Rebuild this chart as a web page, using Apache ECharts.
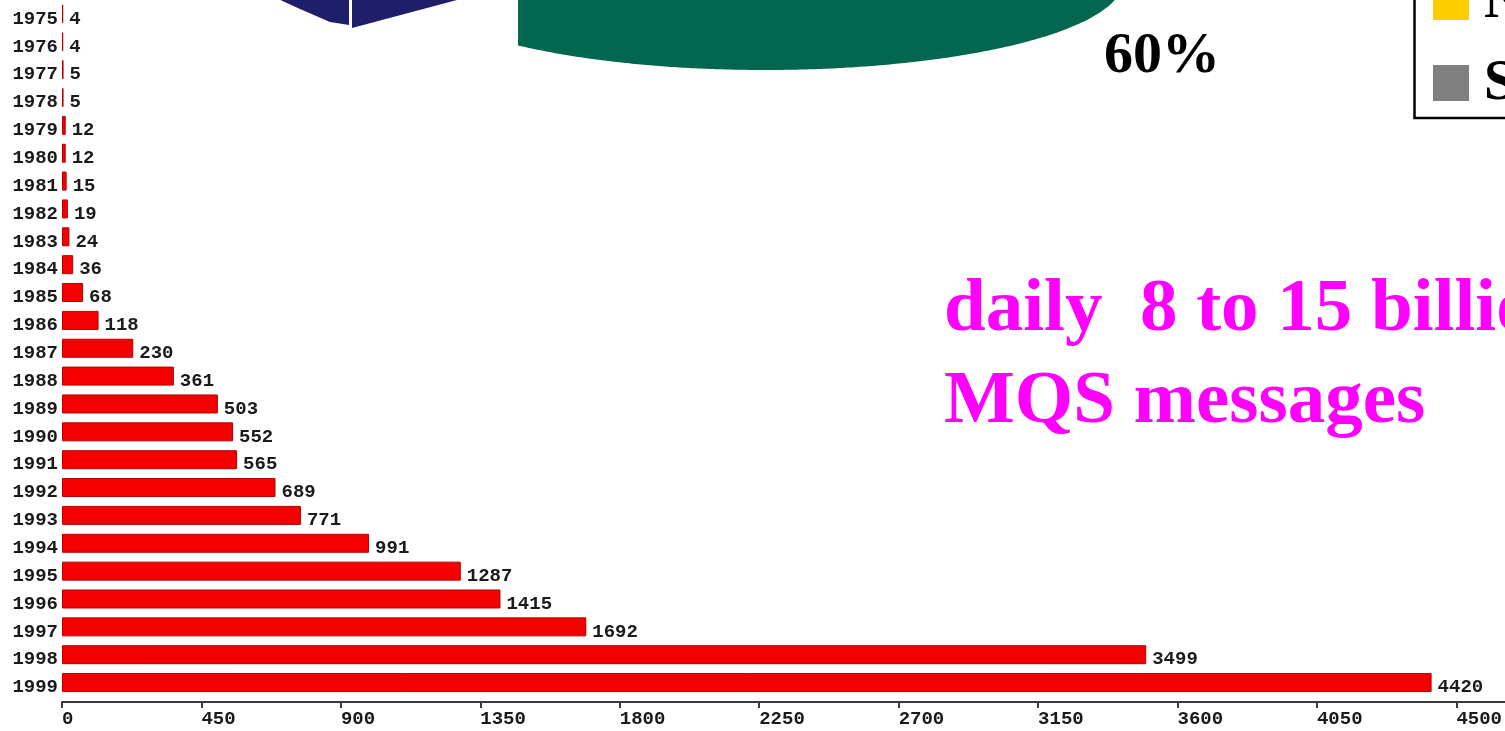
<!DOCTYPE html>
<html>
<head>
<meta charset="utf-8">
<script src="https://cdn.jsdelivr.net/npm/echarts@6/dist/echarts.min.js"></script>
<style>
html,body{margin:0;padding:0;background:#fff;}
#chart{width:1505px;height:731px;}
</style>
</head>
<body>
<div id="chart"></div>
<script>
const years = ['1975','1976','1977','1978','1979','1980','1981','1982','1983','1984','1985','1986','1987','1988','1989','1990','1991','1992','1993','1994','1995','1996','1997','1998','1999'];
const values = [4,4,5,5,12,12,15,19,24,36,68,118,230,361,503,552,565,689,771,991,1287,1415,1692,3499,4420];
const xTickStep = 450;
const xTickMaxLabel = 4500;
const overlayLine1 = 'daily  8 to 15 billion';
const overlayLine2 = 'MQS messages';
const pieLabel = '60%';
const legendLetters = ['N', 'S'];

const monoFont = 'Liberation Mono';

// decorative cropped 3D pie slice (green) outline
function greenSlicePoints() {
  const cx = 765, cy = -19, rx = 358, ry = 89, x0 = 518;
  const pts = [[x0, -5]];
  for (let x = x0; x <= cx + rx; x += 3) {
    const t = (x - cx) / rx;
    const y = cy + ry * Math.sqrt(Math.max(0, 1 - t * t));
    pts.push([x, y]);
    if (y < -5) break;
  }
  return pts;
}

const chart = echarts.init(document.getElementById('chart'), null, {renderer: 'canvas'});
chart.setOption({
  backgroundColor: '#ffffff',
  animation: false,
  grid: {left: 62, right: 0, top: -4, bottom: 34.5, containLabel: false},
  xAxis: {
    type: 'value',
    min: 0,
    max: 4656,
    interval: xTickStep,
    offset: 5.5,
    axisLine: {show: true, lineStyle: {color: '#3a3a3a', width: 2}},
    axisTick: {show: true, length: 6, lineStyle: {color: '#3a3a3a', width: 2}},
    splitLine: {show: false},
    axisLabel: {
      showMaxLabel: false,
      align: 'left',
      margin: 8,
      fontFamily: monoFont,
      fontWeight: 'bold',
      fontSize: 19,
      color: '#1a1a1a',
      formatter: v => (v <= xTickMaxLabel ? String(v) : '')
    }
  },
  yAxis: {
    type: 'category',
    data: years,
    inverse: true,
    axisLine: {show: false},
    axisTick: {show: false},
    splitLine: {show: false},
    axisLabel: {
      margin: 4,
      formatter: v => '{p|' + v + '}',
      rich: {
        p: {
          padding: [10, 0, 0, 0],
          fontFamily: monoFont,
          fontWeight: 'bold',
          fontSize: 19,
          color: '#1a1a1a'
        }
      }
    }
  },
  series: [{
    type: 'bar',
    data: values,
    barWidth: 19,
    itemStyle: {color: '#f40000', borderColor: '#b40000', borderWidth: 1},
    label: {
      show: true,
      position: 'right',
      distance: 6,
      offset: [0, 5],
      fontFamily: monoFont,
      fontWeight: 'bold',
      fontSize: 19,
      color: '#1a1a1a'
    }
  }],
  graphic: [
    {type: 'polygon', z: 10, shape: {points: [[276,-2],[300,9],[330,22],[349,25],[349,-2]]}, style: {fill: '#1e1e6a'}},
    {type: 'polygon', z: 10, shape: {points: [[352,-2],[352,28],[457,0],[457,-2]]}, style: {fill: '#1e1e6a'}},
    {type: 'polygon', z: 10, shape: {points: greenSlicePoints()}, style: {fill: '#02674e'}},
    {type: 'text', z: 10, x: 1104, y: 75 - 0.305 * 58, style: {text: pieLabel, fill: '#000', font: 'bold 58px "Liberation Serif"', verticalAlign: 'middle'}},
    {type: 'rect', z: 10, shape: {x: 1414.5, y: -10, width: 120, height: 128}, style: {fill: '#fff', stroke: '#000', lineWidth: 2.5}},
    {type: 'rect', z: 11, shape: {x: 1433, y: -16, width: 36, height: 36}, style: {fill: '#ffcc00'}},
    {type: 'rect', z: 11, shape: {x: 1433, y: 65, width: 36, height: 36}, style: {fill: '#808080'}},
    {type: 'text', z: 11, x: 1484, y: 20 - 0.305 * 56, style: {text: legendLetters[0], fill: '#000', font: 'bold 56px "Liberation Serif"', verticalAlign: 'middle'}},
    {type: 'text', z: 11, x: 1484, y: 102 - 0.305 * 56, style: {text: legendLetters[1], fill: '#000', font: 'bold 56px "Liberation Serif"', verticalAlign: 'middle'}},
    {type: 'text', z: 10, x: 944, y: 333 - 0.305 * 75, style: {text: overlayLine1, fill: '#ff00ff', font: 'bold 75px "Liberation Serif"', verticalAlign: 'middle', textShadowColor: '#a0a0a0', textShadowOffsetX: 3, textShadowOffsetY: 3, textShadowBlur: 0}},
    {type: 'text', z: 10, x: 944, y: 425 - 0.305 * 75, style: {text: overlayLine2, fill: '#ff00ff', font: 'bold 75px "Liberation Serif"', verticalAlign: 'middle', textShadowColor: '#a0a0a0', textShadowOffsetX: 3, textShadowOffsetY: 3, textShadowBlur: 0}}
  ]
});
</script>
</body>
</html>
